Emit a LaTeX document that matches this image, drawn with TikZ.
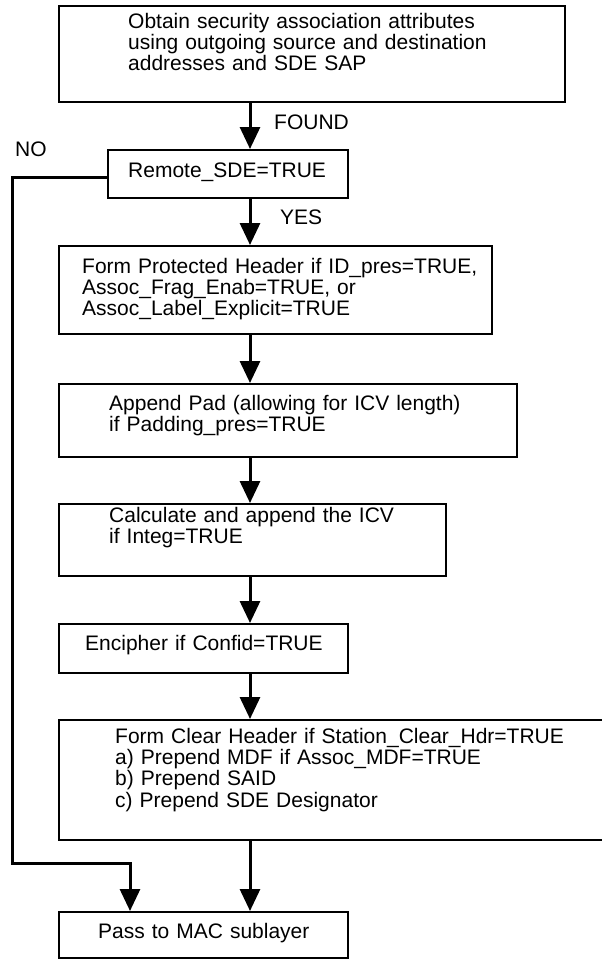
\documentclass[tikz,border=0pt]{standalone}
\usepackage{fontspec}
\setmainfont{Liberation Sans}
\usetikzlibrary{arrows.meta}
\begin{document}
\begin{tikzpicture}[x=1pt,y=-1pt,
  box/.style={draw, line width=2.4pt, inner sep=0pt, anchor=north west},
  txt/.style={anchor=base west, inner sep=0pt, text width=520pt, align=left,
    font=\fontsize{21}{21.4}\selectfont},
  lbl/.style={anchor=base west, inner sep=0pt, font=\fontsize{21}{21.4}\selectfont},
  arr/.style={line width=3pt, -{Triangle[width=20pt,length=22pt]}}]
\clip (0,0) rectangle (602,959);
\coordinate (ax) at (250,0);

% process boxes
\node[box, minimum width=506pt, minimum height=96pt] (b1) at (58,5) {};
\node[box, minimum width=240pt, minimum height=48pt] (b2) at (107,149) {};
\node[box, minimum width=433pt, minimum height=88pt] (b3) at (58,245) {};
\node[box, minimum width=458pt, minimum height=73pt] (b4) at (58,383) {};
\node[box, minimum width=387pt, minimum height=72pt] (b5) at (58,503) {};
\node[box, minimum width=289pt, minimum height=49pt] (b6) at (58,623) {};
\node[box, minimum width=570pt, minimum height=120pt] (b7) at (58,719) {};
\node[box, minimum width=289pt, minimum height=46pt] (b8) at (58,911) {};

% box texts
\node[txt] (t1) at (128,28) {Obtain security association attributes\\using outgoing source and destination\\addresses and SDE SAP};
\node[txt] (t2) at (128,177) {Remote\_SDE=TRUE};
\node[txt] (t3) at (82,273) {Form Protected Header if ID\_pres=TRUE,\\Assoc\_Frag\_Enab=TRUE, or\\Assoc\_Label\_Explicit=TRUE};
\node[txt] (t4) at (109,410) {Append Pad (allowing for ICV length)\\if Padding\_pres=TRUE};
\node[txt] (t5) at (109,522) {Calculate and append the ICV\\if Integ=TRUE};
\node[txt] (t6) at (85,650) {Encipher if Confid=TRUE};
\node[txt] (t7) at (115,743) {Form Clear Header if Station\_Clear\_Hdr=TRUE\\a) Prepend MDF if Assoc\_MDF=TRUE\\b) Prepend SAID\\c) Prepend SDE Designator};
\node[txt] (t8) at (98,938) {Pass to MAC sublayer};

% branch labels
\node[lbl] (found) at (274,129) {FOUND};
\node[lbl] (yes) at (280,224) {YES};
\node[lbl] (no) at (15,156) {NO};

% main flow
\draw[arr] (b1.south -| ax) -- (b2.north -| ax);
\draw[arr] (b2.south -| ax) -- (b3.north -| ax);
\draw[arr] (b3.south -| ax) -- (b4.north -| ax);
\draw[arr] (b4.south -| ax) -- (b5.north -| ax);
\draw[arr] (b5.south -| ax) -- (b6.north -| ax);
\draw[arr] (b6.south -| ax) -- (b7.north -| ax);
\draw[arr] (b7.south -| ax) -- (b8.north -| ax);

% bypass when Remote_SDE is false
\coordinate (nocorner) at (12,863);
\draw[arr] ([yshift=-3pt]b2.west) -| (nocorner) -| ([xshift=72pt]b8.north west);
\end{tikzpicture}
\end{document}
